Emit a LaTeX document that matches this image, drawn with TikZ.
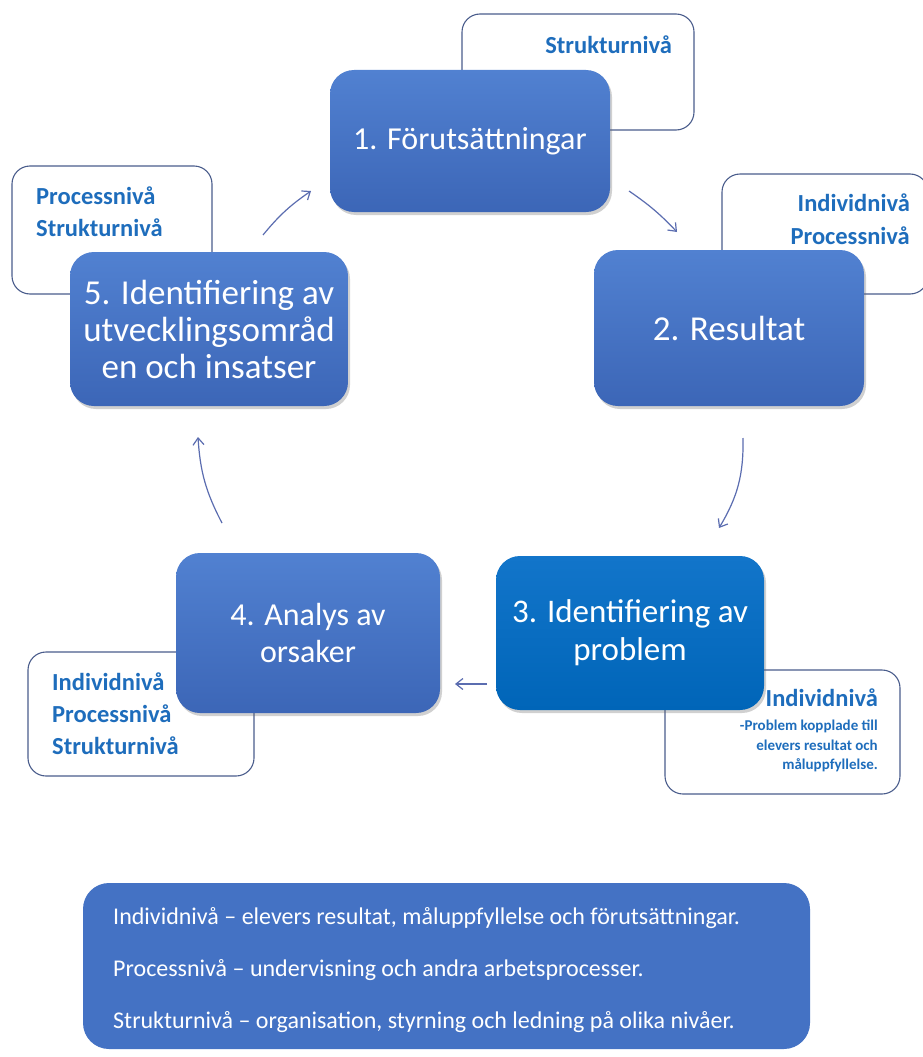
\documentclass[tikz,border=0pt]{standalone}
\usepackage{fontspec}
\setmainfont{Carlito}
\usetikzlibrary{arrows.meta,shadows,positioning}
\definecolor{boxblue}{HTML}{4472C4}
\definecolor{boxtop}{HTML}{5181D1}
\definecolor{boxbot}{HTML}{3C66B7}
\definecolor{box3top}{HTML}{1275CA}
\definecolor{box3bot}{HTML}{0065B8}
\definecolor{calloutline}{HTML}{4A5D8C}
\definecolor{callouttext}{HTML}{1E6DBC}
\definecolor{arrowcol}{HTML}{5B6DB0}
\tikzset{
  stepbox/.style={rectangle, rounded corners=24pt, text=white, align=center,
    top color=boxtop, bottom color=boxbot, draw=none,
    font=\fontsize{32}{37}\selectfont, inner sep=0pt,
    drop shadow={shadow xshift=2pt, shadow yshift=-3pt, opacity=0.3, fill=black!60}},
  stepboxb/.style={stepbox, top color=box3top, bottom color=box3bot},
  callout/.style={rectangle, rounded corners=18pt, fill=white, draw=calloutline, line width=1.1pt, inner sep=0pt},
  clabel/.style={text=callouttext, font=\bfseries\fontsize{24.5}{32}\selectfont, inner sep=0pt},
  csmall/.style={text=callouttext, font=\bfseries\fontsize{15}{19.5}\selectfont, inner sep=0pt, align=right},
  cyc/.style={draw=arrowcol, line width=1.2pt, -{Straight Barb[length=7pt,width=11pt]}},
  legend/.style={rectangle, rounded corners=26pt, fill=boxblue, draw=none, inner sep=0pt},
  legtext/.style={text=white, font=\fontsize{24}{28}\selectfont, inner sep=0pt, anchor=west}
}
\begin{document}
\begin{tikzpicture}[x=1pt,y=-1pt]
\useasboundingbox (0,0) rectangle (922,1057);
\fill[white] (0,0) rectangle (922,1057);

% callouts (behind the step boxes)
\node[callout, minimum width=232pt, minimum height=116pt] (c1) at (578,72) {};
\node[callout, minimum width=206pt, minimum height=120pt] (c2) at (825,234) {};
\node[callout, minimum width=200pt, minimum height=128pt] (c5) at (112,230) {};
\node[callout, minimum width=226pt, minimum height=124pt] (c4) at (141,714) {};
\node[callout, minimum width=235pt, minimum height=124pt] (c3) at (782.5,732) {};

\node[clabel, anchor=east] (t1) at (672,45) {Strukturnivå};
\node[clabel, anchor=east] (t2a) at (910,203) {Individnivå};
\node[clabel, anchor=east] (t2b) at (910,236) {Processnivå};
\node[clabel, anchor=west] (t5a) at (36,196) {Processnivå};
\node[clabel, anchor=west] (t5b) at (36,228) {Strukturnivå};
\node[clabel, anchor=west] (t4a) at (52,682) {Individnivå};
\node[clabel, anchor=west] (t4b) at (52,714) {Processnivå};
\node[clabel, anchor=west] (t4c) at (52,746) {Strukturnivå};
\node[clabel, anchor=east] (t3a) at (878,698) {Individnivå};
\node[csmall, anchor=north east] (t3b) at (878,720) {-Problem kopplade till\\elevers resultat och\\måluppfyllelse.};

% step boxes
\node[stepbox, minimum width=280pt, minimum height=142pt] (b1) at (470,141) {1. Förutsättningar};
\node[stepbox, minimum width=270pt, minimum height=156pt, font=\fontsize{35}{37}\selectfont] (b2) at (729,328) {2. Resultat};
\node[stepbox, minimum width=278pt, minimum height=154pt, font=\fontsize{35}{37}\selectfont] (b5) at (209,329) {5. Identifiering av\\utvecklingsområd\\en och insatser};
\node[stepboxb, minimum width=268pt, minimum height=154pt, font=\fontsize{33}{38}\selectfont] (b3) at (630,633) {3. Identifiering av\\problem};
\node[stepbox, minimum width=264pt, minimum height=160pt] (b4) at (308,633) {4. Analys av\\orsaker};

% cycle arrows
\coordinate (a12s) at (629,191);
\coordinate (a12e) at (677,232);
\coordinate (a23s) at (743,438);
\coordinate (a23e) at (719,528);
\coordinate (a34s) at (487,684);
\coordinate (a34e) at (455,684);
\coordinate (a45s) at (222,523);
\coordinate (a45e) at (198,437);
\coordinate (a51s) at (263,235);
\coordinate (a51e) at (311,191);
\draw[cyc] (a12s) to[bend left=6] (a12e);
\draw[cyc] (a23s) to[bend left=16] (a23e);
\draw[cyc] (a34s) -- (a34e);
\draw[cyc] (a45s) to[bend left=12] (a45e);
\draw[cyc] (a51s) to[bend left=8] (a51e);

% legend
\node[legend, minimum width=727pt, minimum height=166pt] (leg) at (446.5,966) {};
\node[legtext] (l1) at (113,918) {Individnivå – elevers resultat, måluppfyllelse och förutsättningar.};
\node[legtext] (l2) at (113,970) {Processnivå – undervisning och andra arbetsprocesser.};
\node[legtext] (l3) at (113,1022) {Strukturnivå – organisation, styrning och ledning på olika nivåer.};
\end{tikzpicture}
\end{document}
